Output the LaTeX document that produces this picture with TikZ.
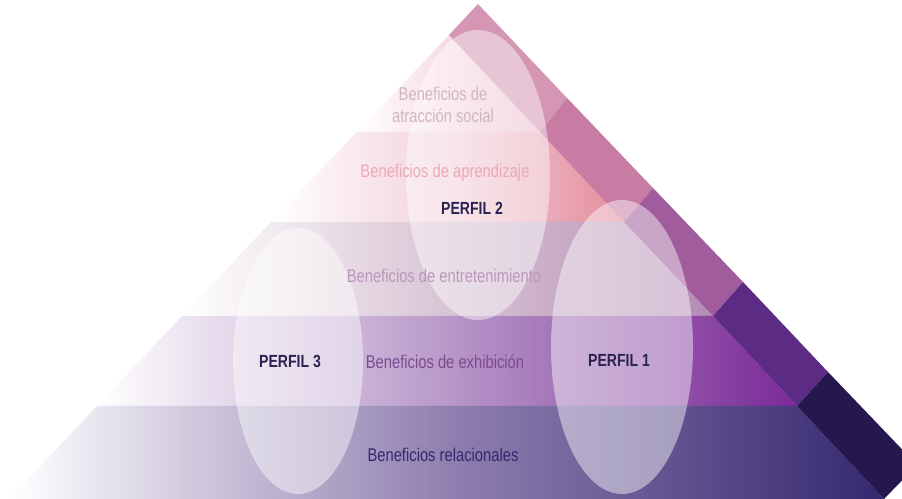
\documentclass[tikz,border=0pt]{standalone}
\usepackage{fontspec}
\setmainfont{Liberation Sans}[FakeStretch=0.8]

\definecolor{franjaA}{HTML}{ECBCCC}
\definecolor{franjaAm}{HTML}{F6DCE4}
\definecolor{franjaB}{HTML}{E48C9C}
\definecolor{franjaBm}{HTML}{F2D2DC}
\definecolor{franjaC}{HTML}{B48CB4}
\definecolor{franjaCm}{HTML}{D8C4D4}
\definecolor{franjaD}{HTML}{7A2A98}
\definecolor{franjaDm}{HTML}{B898C8}
\definecolor{franjaE}{HTML}{352870}
\definecolor{franjaEm}{HTML}{9080B0}
\definecolor{ladoA}{HTML}{D496B2}
\definecolor{ladoB}{HTML}{C87CA4}
\definecolor{ladoC}{HTML}{A05C9C}
\definecolor{ladoD}{HTML}{5C2C84}
\definecolor{ladoE}{HTML}{24184E}
\definecolor{perfiltxt}{HTML}{2A2450}

\tikzset{
  etiqueta/.style={align=center, inner sep=0pt, font=\fontsize{10.5}{12.5}\selectfont},
  perfil/.style={inner sep=0pt, text=perfiltxt, font=\fontsize{10}{12}\selectfont\bfseries},
  lente/.style={fill=white, fill opacity=0.45},
}

\begin{document}
\begin{tikzpicture}[x=0.02cm, y=-0.02cm]
\useasboundingbox (0,0) rectangle (902,499);
\clip (0,0) rectangle (902,499);

% cara frontal
\shade[left color=white, right color=franjaA, middle color=franjaAm] (449,35) -- (540,132) -- (357,132) -- cycle;
\shade[left color=white, right color=franjaB, middle color=franjaBm] (357,132) -- (540,132) -- (624,222) -- (271,222) -- cycle;
\shade[left color=white, right color=franjaC, middle color=franjaCm] (271,222) -- (624,222) -- (713,316) -- (182,316) -- cycle;
\shade[left color=white, right color=franjaD, middle color=franjaDm] (182,316) -- (713,316) -- (797,406) -- (97,406) -- cycle;
\shade[left color=white, right color=franjaE, middle color=franjaEm] (97,406) -- (797,406) -- (884,499) -- (9,499) -- cycle;

% cara lateral
\fill[ladoA] (478,4) -- (567,98) -- (540,132) -- (449,35) -- cycle;
\fill[ladoB] (540,132) -- (567,98) -- (653,188) -- (624,222) -- cycle;
\fill[ladoC] (624,222) -- (653,188) -- (743,282) -- (713,316) -- cycle;
\fill[ladoD] (713,316) -- (743,282) -- (828,372) -- (797,406) -- cycle;
\fill[ladoE] (797,406) -- (828,372) -- (917,465) -- (884,499) -- cycle;

% perfiles
\fill[lente] (478,175) ellipse [x radius=72, y radius=145];
\fill[lente] (622,347) ellipse [x radius=71, y radius=147];
\fill[lente] (298,361) ellipse [x radius=65, y radius=133];

\node[etiqueta, text=franjaA!80!black!70] (social) at (443,105) {Beneficios de\\atracción social};
\node[etiqueta, text=franjaB!75!white] (aprend) at (445,173) {Beneficios de aprendizaje};
\node[etiqueta, text=franjaC!90!white] (entret) at (444,276) {Beneficios de entretenimiento};
\node[etiqueta, text=franjaD!60!gray] (exhib) at (445,362) {Beneficios de exhibición};
\node[etiqueta, text=franjaE] (relac) at (443,455) {Beneficios relacionales};
\node[perfil] (p2) at (472,208) {PERFIL 2};
\node[perfil] (p3) at (290,361) {PERFIL 3};
\node[perfil] (p1) at (619,360) {PERFIL 1};
\end{tikzpicture}
\end{document}
